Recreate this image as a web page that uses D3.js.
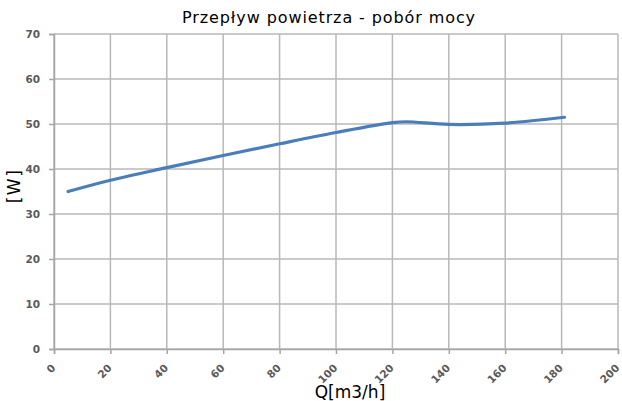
<!DOCTYPE html>
<html>
<head>
<meta charset="utf-8">
<script src="https://cdn.jsdelivr.net/npm/d3@7"></script>
<style>
  body { margin: 0; background: #fff; }
  .tick text { font-family: "DejaVu Sans", sans-serif; font-size: 10.5px; font-weight: bold; fill: #5a5a5a; }
</style>
</head>
<body>
<script>
const width = 622;
const height = 401;
const marginTop = 34;
const marginRight = 4;
const marginBottom = 52;
const marginLeft = 54;

// przepływ Q [m3/h] i pobór mocy [W]
const flow = [5, 20, 40, 60, 80, 100, 120, 125, 140, 160, 181];
const power = [35, 37.5, 40.3, 43, 45.6, 48.1, 50.3, 50.5, 49.9, 50.2, 51.5];
const xTicks = [0, 20, 40, 60, 80, 100, 120, 140, 160, 180, 200];
const yTicks = [0, 10, 20, 30, 40, 50, 60, 70];

const data = flow.map((q, i) => ({q: q, w: power[i]}));

const x = d3.scaleLinear()
    .domain([0, 200])
    .range([marginLeft, width - marginRight]);

const y = d3.scaleLinear()
    .domain([0, 70])
    .range([height - marginBottom, marginTop]);

const svg = d3.select("body")
    .append("svg")
    .attr("width", width)
    .attr("height", height);

//grid
svg.append("g")
    .selectAll("line")
    .data(xTicks)
    .join("line")
    .attr("x1", d => x(d))
    .attr("x2", d => x(d))
    .attr("y1", y(0))
    .attr("y2", y(70))
    .attr("stroke", "#b8b8b8")
    .attr("stroke-width", 1.5);

svg.append("g")
    .selectAll("line")
    .data(yTicks)
    .join("line")
    .attr("x1", x(0))
    .attr("x2", x(200))
    .attr("y1", d => y(d))
    .attr("y2", d => y(d))
    .attr("stroke", "#b8b8b8")
    .attr("stroke-width", 1.5);

//axes
const xAxis = svg.append("g")
    .attr("transform", `translate(0,${y(0)})`)
    .call(d3.axisBottom(x).tickValues(xTicks).tickSize(5));
xAxis.select(".domain").attr("stroke", "#a6a6a6").attr("stroke-width", 1.5);
xAxis.selectAll(".tick line").attr("stroke", "#a6a6a6").attr("stroke-width", 1.5);
xAxis.selectAll(".tick text")
    .attr("text-anchor", "end")
    .attr("y", 0)
    .attr("dy", "0.35em")
    .attr("transform", "translate(-1,17) rotate(-45)");

const yAxis = svg.append("g")
    .attr("transform", `translate(${x(0)},0)`)
    .call(d3.axisLeft(y).tickValues(yTicks).tickSize(5).tickPadding(9));
yAxis.select(".domain").attr("stroke", "#a6a6a6").attr("stroke-width", 1.5);
yAxis.selectAll(".tick line").attr("stroke", "#a6a6a6").attr("stroke-width", 1.5);

//line
const line = d3.line()
    .x(d => x(d.q))
    .y(d => y(d.w))
    .curve(d3.curveCatmullRom.alpha(0.5));

svg.append("path")
    .datum(data)
    .attr("d", line)
    .attr("fill", "none")
    .attr("stroke", "#4a7ebb")
    .attr("stroke-width", 3.2)
    .attr("stroke-linecap", "round");

//title
svg.append("text")
    .attr("x", 329)
    .attr("y", 23)
    .attr("text-anchor", "middle")
    .attr("font-family", "DejaVu Sans, sans-serif")
    .attr("font-size", 16)
    .attr("letter-spacing", 0.9)
    .attr("fill", "#000")
    .text("Przepływ powietrza - pobór mocy");

svg.append("text")
    .attr("x", 350)
    .attr("y", 398)
    .attr("text-anchor", "middle")
    .attr("font-family", "DejaVu Sans, sans-serif")
    .attr("font-size", 17)
    .attr("fill", "#000")
    .text("Q[m3/h]");

svg.append("text")
    .attr("transform", `translate(20,186) rotate(-90)`)
    .attr("text-anchor", "middle")
    .attr("font-family", "DejaVu Sans, sans-serif")
    .attr("font-size", 17)
    .attr("letter-spacing", 1.5)
    .attr("fill", "#000")
    .text("[W]");
</script>
</body>
</html>
